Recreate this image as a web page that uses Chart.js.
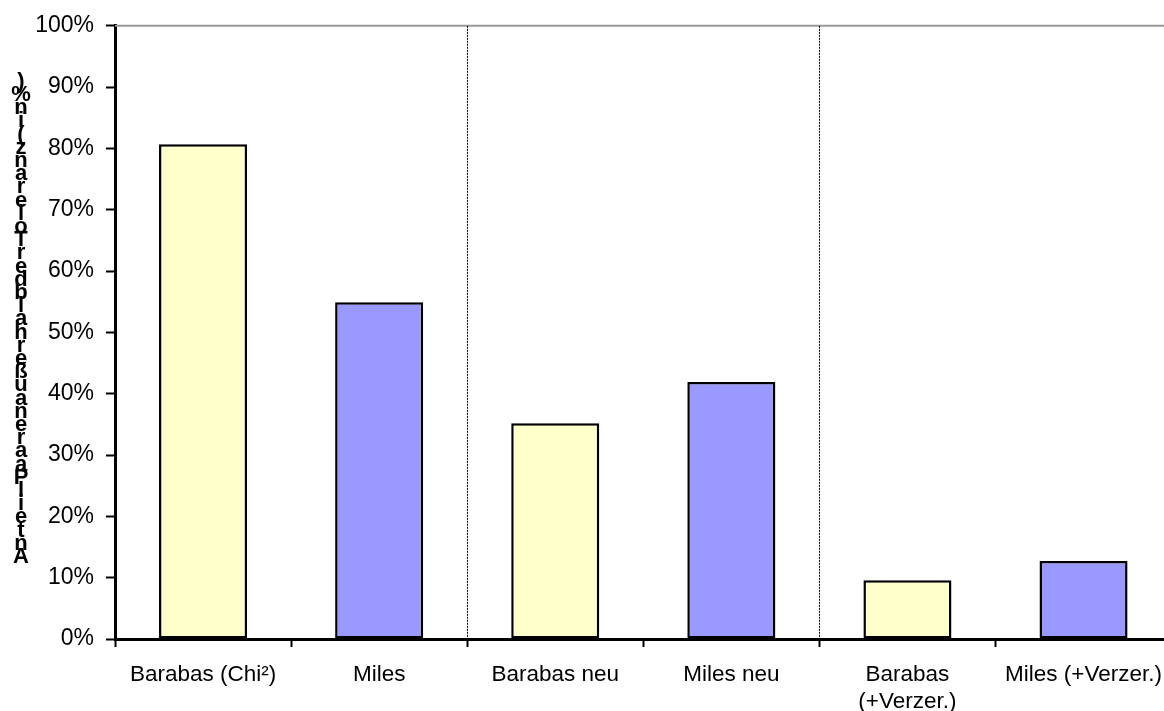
<!DOCTYPE html>
<html>
<head>
<meta charset="utf-8">
<script src="https://cdn.jsdelivr.net/npm/chart.js@4/dist/chart.umd.min.js"></script>
<style>
  html, body { margin: 0; padding: 0; background: #fff; overflow: hidden; }
  #wrap { position: relative; width: 1177px; height: 711px; }
</style>
</head>
<body>
<div id="wrap"><canvas id="chart"></canvas></div>
<script>
// Categories (one bar each) and the share of pairs per method, in percent
const categories = ['Barabas (Chi²)', 'Miles', 'Barabas neu', 'Miles neu', ['Barabas', '(+Verzer.)'], 'Miles (+Verzer.)'];
const shares = [80.7, 54.9, 35.2, 41.9, 9.6, 12.7];
const yTicks = [0, 10, 20, 30, 40, 50, 60, 70, 80, 90, 100];
const yTitle = 'Anteil Paaren außerhalb der Toleranz (in %)';
// Group boundaries drawn as dotted separators (after these category indices)
const groupBreaks = [1, 3];

const YELLOW = '#FFFFCC';
const PURPLE = '#9999FF';
const FONT = '"Liberation Sans", Arial, sans-serif';

// Stacked, upright title letters running bottom to top
const stackedTitle = {
  id: 'stackedTitle',
  afterDraw(chart) {
    const ctx = chart.ctx;
    const chars = Array.from(yTitle).filter(c => c !== ' ');
    const bottom = 557, step = 13.2, x = 21;
    ctx.save();
    ctx.fillStyle = '#000';
    ctx.font = 'bold 22px ' + FONT;
    ctx.textAlign = 'center';
    ctx.textBaseline = 'middle';
    chars.forEach((c, i) => ctx.fillText(c, x, bottom - i * step));
    ctx.restore();
  }
};

// Grey top border and dotted group separators
const frame = {
  id: 'frame',
  beforeDatasetsDraw(chart) {
    const { ctx, chartArea: a } = chart;
    const xs = chart.scales.x;
    ctx.save();
    ctx.strokeStyle = '#999';
    ctx.lineWidth = 2;
    ctx.beginPath();
    ctx.moveTo(a.left, a.top);
    ctx.lineTo(a.right, a.top);
    ctx.stroke();
    ctx.strokeStyle = '#000';
    ctx.lineWidth = 1;
    ctx.setLineDash([2, 1]);
    groupBreaks.forEach(i => {
      const px = Math.round((xs.getPixelForTick(i) + xs.getPixelForTick(i + 1)) / 2) + 0.5;
      ctx.beginPath();
      ctx.moveTo(px, a.top);
      ctx.lineTo(px, a.bottom);
      ctx.stroke();
    });
    ctx.restore();
  }
};

new Chart(document.getElementById('chart'), {
  type: 'bar',
  data: {
    labels: categories,
    datasets: [{
      data: shares,
      backgroundColor: shares.map((_, i) => i % 2 === 0 ? YELLOW : PURPLE),
      borderColor: '#000',
      borderWidth: 2.5,
      borderSkipped: false,
      categoryPercentage: 1,
      barPercentage: 0.5
    }]
  },
  options: {
    responsive: true,
    maintainAspectRatio: false,
    animation: false,
    layout: { padding: { left: 10, top: 23, right: 0, bottom: 0 } },
    plugins: { legend: { display: false }, tooltip: { enabled: false } },
    scales: {
      x: {
        offset: true,
        grid: { offset: true, drawOnChartArea: false, tickLength: 8, tickColor: '#000', tickWidth: 2 },
        border: { color: '#000', width: 3 },
        ticks: {
          color: '#000', autoSkip: false, maxRotation: 0, padding: 15,
          font: { family: FONT, size: 22.5, lineHeight: 1.17 }
        },
        afterFit(scale) { scale.height = 72; }
      },
      y: {
        min: 0, max: 100,
        afterBuildTicks(scale) { scale.ticks = yTicks.map(v => ({ value: v })); },
        grid: { drawOnChartArea: false, tickLength: 9, tickColor: '#000', tickWidth: 2 },
        border: { color: '#000', width: 3 },
        ticks: {
          color: '#000', padding: 12,
          font: { family: FONT, size: 23 },
          callback: v => v + '%'
        },
        afterFit(scale) { scale.width = 105; }
      }
    }
  },
  plugins: [frame, stackedTitle]
});
</script>
</body>
</html>
